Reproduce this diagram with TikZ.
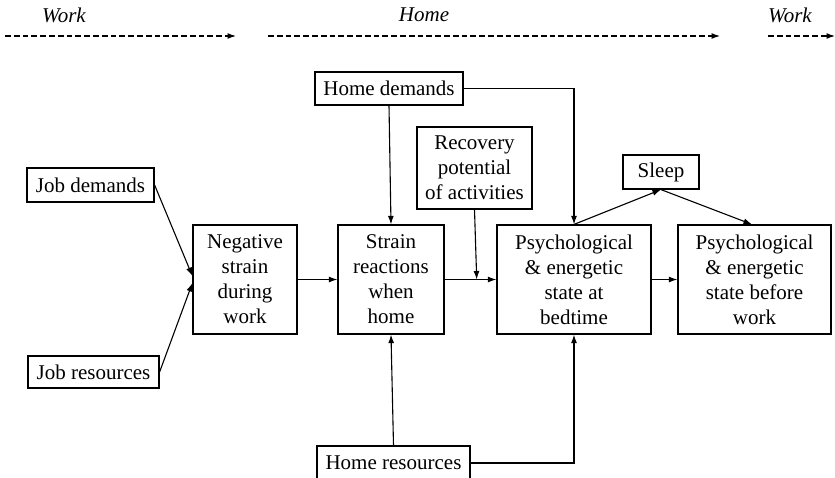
\documentclass[tikz,border=0pt]{standalone}
\usepackage{fontspec}
\setmainfont{Liberation Serif}
\usetikzlibrary{arrows.meta}
\newcommand\arrowtipscale{0.85}
\newcommand\tallbox{54.5pt}
\newcommand\lowbox{17pt}

\begin{document}
\begin{tikzpicture}[x=0.5pt,y=-0.5pt,
    box/.style={draw,line width=0.6pt,align=center,inner sep=1pt,
      font=\fontsize{10.5}{12.5}\selectfont},
    stage/.style={font=\fontsize{10.5}{12.5}\selectfont\itshape},
    link/.style={line width=0.55pt,-{Latex[length=5pt,width=3.5pt,scale=\arrowtipscale]}},
    phase/.style={link,dash pattern=on 2.9pt off 1.5pt}]
    \useasboundingbox (0,0) rectangle (835,477);

    % stages along the top
    \node[stage] (work1) at (64,15) {Work};
    \node[stage] (home) at (424,15) {Home};
    \node[stage] (work2) at (790,15) {Work};

    \coordinate (p1a) at (5,36);   \coordinate (p1b) at (236,36);
    \coordinate (p2a) at (268,36); \coordinate (p2b) at (720,36);
    \coordinate (p3a) at (768,36); \coordinate (p3b) at (835,36);
    \draw[phase] (p1a) -- (p1b);
    \draw[phase] (p2a) -- (p2b);
    \draw[phase] (p3a) -- (p3b);

    % boxes
    \node[box,minimum width=63.5pt,minimum height=\lowbox] (jobdem) at (90.5,185) {Job demands};
    \node[box,minimum width=65.5pt,minimum height=16pt] (jobres) at (93.5,372) {Job resources};
    \node[box,minimum width=52pt,minimum height=\tallbox] (negstrain) at (245,279.5)
      {Negative\\strain\\during\\work};
    \node[box,minimum width=53pt,minimum height=\tallbox] (strain) at (391,279.5)
      {Strain\\reactions\\when\\home};
    \node[box,minimum width=74pt,minimum height=16.5pt] (homedem) at (389,88.5) {Home demands};
    \node[box,minimum width=57.5pt,minimum height=41pt] (recovery) at (474.5,168)
      {Recovery\\potential\\of activities};
    \node[box,minimum width=77pt,minimum height=\tallbox] (bedtime) at (574,279.5)
      {Psychological\\\& energetic\\state at\\bedtime};
    \node[box,minimum width=76.5pt,minimum height=\tallbox] (before) at (754.5,279.5)
      {Psychological\\\& energetic\\state before\\work};
    \node[box,minimum width=38pt,minimum height=\lowbox] (sleep) at (661,172) {Sleep};
    \node[box,minimum width=76.5pt,minimum height=\lowbox] (homeres) at (393.5,463) {Home resources};

    % connectors
    \draw[link] (jobdem.east) -- ([yshift=1.75pt]negstrain.west);
    \draw[link] (jobres.east) -- ([yshift=-1.75pt]negstrain.west);
    \draw[link] (negstrain.east) -- (strain.west);
    \draw[link] (strain.east) -- (bedtime.west) coordinate[pos=0.62] (rec);
    \draw[link] (recovery.south) -- (rec);
    \draw[link] (homedem.south) -- (strain.north);
    \draw[link] (homeres.north) -- (strain.south);
    \draw[link] (homedem.east) -| (bedtime.north);
    \draw[link] (homeres.east) -| (bedtime.south);
    \draw[link] (bedtime.north) -- (sleep.south);
    \draw[link] (sleep.south) -- ([xshift=-1.25pt]before.north);
    \draw[link] (bedtime.east) -- (before.west);
  \end{tikzpicture}
\end{document}
